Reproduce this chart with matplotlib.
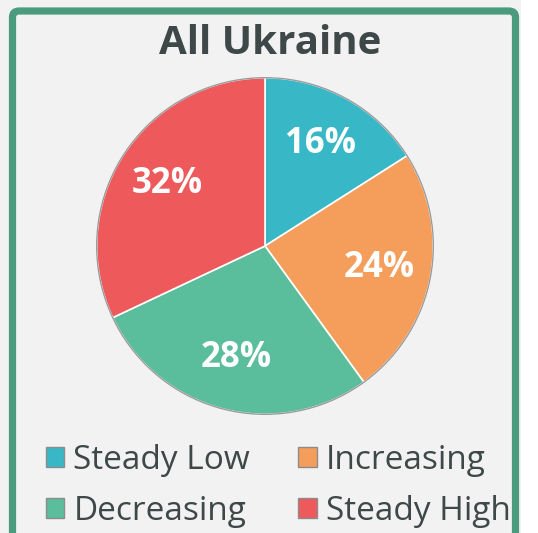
import matplotlib.pyplot as plt
from matplotlib.patches import FancyBboxPatch, Rectangle, Circle, Patch

# Data
title = 'All Ukraine'
categories = ['Steady Low', 'Increasing', 'Decreasing', 'Steady High']
shares = [16, 24, 28, 32]
colors = ['#38B8C6', '#F59D5B', '#5ABD9C', '#EE5A5C']

W, H = 538, 533
fig = plt.figure(figsize=(W / 100, H / 100), dpi=100)
fig.patch.set_facecolor('#F2F2F2')

# white strip at right edge and green rounded frame
fig.patches.append(Rectangle((521 / W, 0), 1, 1, transform=fig.transFigure,
                             facecolor='white', edgecolor='none', zorder=-2))
fig.patches.append(FancyBboxPatch((12.5 / W, -20 / H), 503 / W, (H - 11 + 20) / H,
                                  boxstyle='round,pad=0,rounding_size=0.012',
                                  transform=fig.transFigure, facecolor='#F2F2F2',
                                  edgecolor='#4B9B7F', linewidth=5.2, zorder=-1))

fig.text(270 / W, 1 - 43 / H, title, ha='center', va='center', fontsize=29,
         fontweight='bold', color='#3E4848', family='Open Sans')

cx, cy, r = 265, 246, 170
ax = fig.add_axes([(cx - r) / W, 1 - (cy + r) / H, 2 * r / W, 2 * r / H])
ax.set_facecolor('none')
wedges, texts, autotexts = ax.pie(shares, colors=colors, startangle=90, counterclock=False,
                                  autopct='%d%%', pctdistance=0.69,
                                  wedgeprops=dict(edgecolor='white', linewidth=1.2),
                                  textprops=dict(color='white', fontsize=25,
                                                 fontweight='bold', family='Open Sans'))
ax.add_patch(Circle((0, 0), 1.0, facecolor='none', edgecolor='#9A9A9A', linewidth=1.0))
ax.set_xlim(-1.01, 1.01)
ax.set_ylim(-1.01, 1.01)
ax.set_aspect('auto')
ax.axis('off')

# legend filled row by row
order = [0, 2, 1, 3]
handles = [Patch(facecolor=colors[i], edgecolor='#8C8C8C', linewidth=1.0) for i in order]
leg = fig.legend(handles, [categories[i] for i in order], ncol=2, loc='center left',
                 bbox_to_anchor=(16 / W, 1 - 486 / H), frameon=False,
                 handlelength=0.55, handleheight=0.55, handletextpad=0.27,
                 columnspacing=1.45, labelspacing=0.53, prop=dict(family='Open Sans', size=24))
for t in leg.get_texts():
    t.set_color('#3E4848')

fig.savefig('out.png', dpi=100, facecolor=fig.get_facecolor())
